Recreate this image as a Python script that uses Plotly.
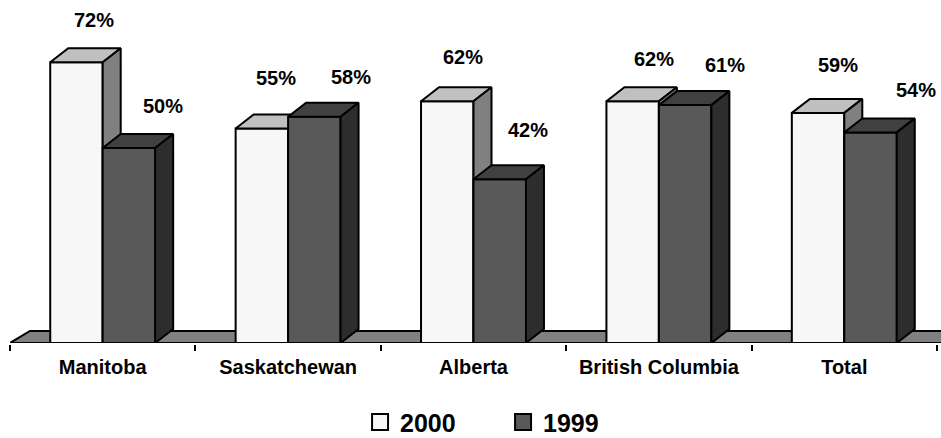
import plotly.graph_objects as go

# ---- data ----
categories = ["Manitoba", "Saskatchewan", "Alberta", "British Columbia", "Total"]
values_2000 = [72, 55, 62, 62, 59]
values_1999 = [50, 58, 42, 61, 54]
series_names = ["2000", "1999"]

# ---- style / layout constants ----
W, H = 941, 438
ML, MR, MT, MB = 10, 0, 10, 95
PX_PER_CAT = 185.4
PX_PER_PCT = 3.9
BAR_W = 0.283                  # bar width in category units
DEPTH_PX = (18, 14)            # 3D depth offset of bars (px right, px up)
FLOOR_DEPTH_PX = (20, 12)

FRONT = {"2000": "#f7f7f7", "1999": "#595959"}
TOP = {"2000": "#c0c0c0", "1999": "#404040"}
SIDE = {"2000": "#808080", "1999": "#2d2d2d"}
FLOOR = "#808080"

# label nudges (pixels) relative to the top-back edge of each bar
LABEL_SHIFT_X = {"2000": [18, 14, 16, 21, 20], "1999": [34, 37, 28, 40, 45]}
LABEL_RISE = {"2000": [28, 37, 30, 28, 34], "1999": [28, 26, 35, 26, 28]}

FONT = "Liberation Sans, Arial, sans-serif"

plot_w = W - ML - MR
plot_h = H - MT - MB
x_range = [-0.5, -0.5 + plot_w / PX_PER_CAT]
y_range = [0, plot_h / PX_PER_PCT]

ddx = DEPTH_PX[0] / PX_PER_CAT
ddy = DEPTH_PX[1] / PX_PER_PCT
fdx = FLOOR_DEPTH_PX[0] / PX_PER_CAT
fdy = FLOOR_DEPTH_PX[1] / PX_PER_PCT

idx = list(range(len(categories)))

fig = go.Figure()

# floor slab
fx0, fx1 = x_range[0], x_range[1] + 0.3
fig.add_trace(go.Scatter(
    x=[fx0, fx0 + fdx, fx1 + fdx, fx1, fx0],
    y=[0, fdy, fdy, 0, 0],
    mode="lines", fill="toself", fillcolor=FLOOR,
    line=dict(color="black", width=2), hoverinfo="skip",
    showlegend=False, zorder=0,
))


def faces(values, offset):
    tx, ty, sx, sy = [], [], [], []
    for i, v in zip(idx, values):
        xl = i + offset
        xr = xl + BAR_W
        tx += [xl, xl + ddx, xr + ddx, xr, xl, None]
        ty += [v, v + ddy, v + ddy, v, v, None]
        sx += [xr, xr + ddx, xr + ddx, xr, xr, None]
        sy += [0, ddy, v + ddy, v, 0, None]
    return tx, ty, sx, sy


z = 1
for name, vals, off in [("2000", values_2000, -BAR_W), ("1999", values_1999, 0.0)]:
    fig.add_trace(go.Bar(
        x=idx, y=vals, width=BAR_W, offset=off, name=name,
        marker=dict(color=FRONT[name], line=dict(color="black", width=2)),
        showlegend=False, zorder=z,
    ))
    tx, ty, sx, sy = faces(vals, off)
    fig.add_trace(go.Scatter(
        x=tx, y=ty, mode="lines", fill="toself", fillcolor=TOP[name],
        line=dict(color="black", width=2), hoverinfo="skip",
        showlegend=False, zorder=z + 1,
    ))
    fig.add_trace(go.Scatter(
        x=sx, y=sy, mode="lines", fill="toself", fillcolor=SIDE[name],
        line=dict(color="black", width=2), hoverinfo="skip",
        showlegend=False, zorder=z + 1,
    ))
    # legend entry
    fig.add_trace(go.Scatter(
        x=[None], y=[None], mode="markers", name=name,
        marker=dict(symbol="square", size=16, color=FRONT[name],
                    line=dict(color="black", width=2)),
        showlegend=True,
    ))
    # value labels
    for i, v in zip(idx, vals):
        fig.add_annotation(
            x=i + off + BAR_W / 2, y=v, xref="x", yref="y",
            text=f"{v}%", showarrow=False,
            xanchor="center", yanchor="middle",
            xshift=LABEL_SHIFT_X[name][i],
            yshift=DEPTH_PX[1] + LABEL_RISE[name][i],
            font=dict(family=FONT, size=20, color="black", weight="bold"),
        )
    z += 2

fig.update_layout(
    width=W, height=H,
    margin=dict(l=ML, r=MR, t=MT, b=MB, autoexpand=False),
    paper_bgcolor="white", plot_bgcolor="white",
    barmode="overlay",
    font=dict(family=FONT, color="black"),
    showlegend=True,
    legend=dict(
        orientation="h", x=0.376, xanchor="left", y=-0.238, yanchor="middle",
        font=dict(family=FONT, size=25, color="black", weight="bold"),
        entrywidth=98, itemclick=False,
    ),
    xaxis=dict(
        range=x_range, showgrid=False, zeroline=False, automargin=False,
        showline=True, linecolor="black", linewidth=2,
        tickvals=idx, ticktext=categories, ticks="",
        tickfont=dict(family=FONT, size=20, color="black", weight="bold"),
        ticklabelstandoff=5,
        minor=dict(tickvals=[i - 0.5 for i in range(len(categories) + 1)],
                   ticks="outside", ticklen=6, tickwidth=2, tickcolor="black",
                   showgrid=False),
    ),
    yaxis=dict(range=y_range, visible=False, showgrid=False, zeroline=False),
)

fig.write_html("out.html")
